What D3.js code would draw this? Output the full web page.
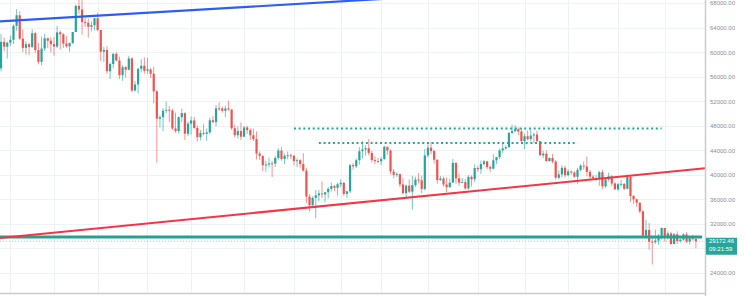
<!DOCTYPE html>
<html><head><meta charset="utf-8">
<script src="https://cdn.jsdelivr.net/npm/d3@7"></script>
<style>body{margin:0;background:#fff;} svg{display:block;}</style>
</head><body><svg id="c" width="745" height="296"></svg>
<script>
// ---- DATA (daily candles, 2021-10-15 .. 2022-05-26) ----
const startDate = "2021-10-15";
const opens = [
57347,61672,60875,61528,62010,64280,66001,62193,60688,61286,60852,63078,60328,58413,60575,62253,61859,
61300,60911,63219,62896,61395,60937,61470,63273,67525,66947,64882,64774,64122,64380,65519,63606,60058,60345,56891,58052,59707,58622,56247,57541,57138,58960,53726,54721,57274,57776,
56950,57184,56480,53601,49152,49396,50441,50589,50471,47545,47140,49389,50053,46702,48343,48864,47632,46131,46834,46681,46914,48889,48588,50839,50821,50429,50809,50640,47588,46464,47120,
46216,47722,47286,46446,45832,43451,43082,41566,41679,41864,41822,42736,43946,42592,43099,43177,43113,42250,42375,41744,40680,36445,35071,36244,36660,36958,36810,37160,37716,38166,37881,
38466,38691,36896,37311,41574,41382,42380,43840,44118,44339,43565,42407,42244,42197,42586,44575,43961,40538,40000,40117,38431,37017,38237,37250,38328,39219,39116,37700,
43160,44421,43892,42454,39148,39397,38420,37988,38730,41941,39422,38730,38807,37777,39671,39280,41114,40917,41757,42201,41262,41002,42364,42882,43991,44313,44511,46827,47122,47434,47067,
45510,46283,45811,46407,46580,45497,43170,43444,42252,42753,42158,39530,40074,41147,39942,40551,40378,39678,40801,41493,41358,40480,39709,39441,39450,40426,38112,39235,39742,38596,
37630,38468,38525,37729,39690,36552,36014,35468,34038,30077,31017,29104,29030,29287,30086,31329,29874,30445,28715,30319,29201,29445,30293,29109,29655,29543];
const highs = [
62933,62378,61718,62695,64486,67000,66639,63732,61747,61500,63710,63293,61496,62499,62980,62359,62405,
62437,64270,63500,63086,62595,61560,63286,67789,68524,69000,65600,65460,65000,65550,66401,63617,60840,60976,58320,59846,60029,59266,57875,57735,59398,59150,55280,57445,58865,59176,
59053,57375,57600,53859,49699,50891,51936,51200,50797,50125,49485,50777,50189,48700,49500,49436,47995,47313,48300,47537,49328,49576,51375,51810,51156,51280,52088,50704,48139,47900,48548,
47954,47990,47570,47505,47070,43816,43145,42300,42786,42248,43100,44322,44500,43446,43800,43476,43179,42700,42545,43505,41100,36835,36499,37550,37545,38919,37234,38000,38720,38359,38744,
39265,38855,37387,41772,41913,42656,44500,45492,44799,45821,43920,43000,42760,42876,44751,44583,44164,40959,40444,40150,39494,38420,39249,39843,39683,40300,39855,44225,
44949,45400,44101,42527,39794,39693,39547,39362,42594,42039,40236,39486,39310,39947,39887,41718,41478,42325,42400,42296,41544,43361,42893,44220,45094,44792,46999,48190,48097,47700,47600,
46720,47213,47444,46890,47200,45507,43900,43970,42800,43410,42414,40699,41561,41500,40870,40709,40595,41116,41760,42199,42976,40795,39980,39940,40616,40797,39474,40372,39925,38795,
38675,39167,38651,40023,39845,36675,36129,35502,34243,32658,32162,30033,31083,30343,31460,31329,30788,30709,30545,30777,29588,30487,30670,29844,30223,29850];
const lows = [
56850,60150,58963,60983,61322,63482,62000,60000,59562,59510,60650,59817,58000,57820,60174,60673,59945,
59405,60624,60382,60677,60721,60050,61322,63273,66222,62822,64100,62333,63360,63576,63400,58574,58373,56474,55600,57353,58486,55610,55317,55837,57000,53500,53610,53256,56666,56476,
56459,55777,51680,42000,47727,47100,50039,48600,47320,46852,46751,48638,45672,46290,46547,47511,45456,45598,46406,45558,46630,48421,47920,50384,50142,49412,50449,47313,46096,45900,45678,
46208,46654,45696,45502,42500,42430,40610,40501,41200,39650,41268,42450,42311,41725,42555,42581,41540,41250,41138,40553,35440,34008,34601,32917,35701,36234,35507,36155,37268,37351,36632,
38000,36586,36250,37026,40843,41116,41645,42667,43117,43187,42000,41748,41870,41570,42428,43310,40073,39451,39639,38000,36800,36350,37036,34322,38014,38600,37000,37450,
42809,43334,41832,38550,38988,38088,37155,37867,38656,38539,38223,38660,37578,37555,38098,38828,40500,40135,41499,40911,40467,40875,41750,42560,43579,44071,44422,46664,46930,46445,45200,
44200,45620,45530,45118,45353,43121,42727,42107,42125,41868,39200,39254,39588,39551,39766,39991,39546,38536,40571,40820,39751,39177,39285,38929,38200,37702,37881,38881,38175,37578,
37386,38052,37517,37670,35571,35258,34785,33713,30033,29731,27785,25400,28751,28630,29480,29088,29450,28654,28693,28730,28947,29255,28866,28669,29294,28019];
const closes = [
61672,60875,61528,62010,64280,66001,62193,60688,61286,60852,63078,60328,58413,60575,62253,61859,61300,
60911,63219,62896,61395,60937,61470,63273,67525,66947,64882,64774,64122,64380,65519,63606,60058,60345,56891,58052,59707,58622,56247,57541,57138,58960,53726,54721,57274,57776,56950,
57184,56480,53601,49152,49396,50441,50589,50471,47545,47140,49389,50053,46702,48343,48864,47632,46131,46834,46681,46914,48889,48588,50839,50821,50429,50809,50640,47588,46464,47120,46216,
47722,47286,46446,45832,43451,43082,41566,41679,41864,41822,42736,43946,42592,43099,43177,43113,42250,42375,41744,40680,36445,35071,36244,36660,36958,36810,37160,37716,38166,37881,38466,
38691,36896,37311,41574,41382,42380,43840,44118,44339,43565,42407,42244,42197,42586,44575,43961,40538,40000,40117,38431,37017,38237,37250,38328,39219,39116,37700,43160,
44421,43892,42454,39148,39397,38420,37988,38730,41941,39422,38730,38807,37777,39671,39280,41114,40917,41757,42201,41262,41002,42364,42882,43991,44313,44511,46827,47122,47434,47067,45510,
46283,45811,46407,46580,45497,43170,43444,42252,42753,42158,39530,40074,41147,39942,40551,40378,39678,40801,41493,41358,40480,39709,39441,39450,40426,38112,39235,39742,38596,37630,
38468,38525,37729,39690,36552,36014,35468,34038,30077,31017,29104,29030,29287,30086,31329,29874,30445,28715,30319,29201,29445,30293,29109,29655,29543,29172.46];

const gridPrices = [24000,28000,32000,36000,40000,44000,48000,52000,56000,60000,64000,68000];
const priceLabels = [24000,32000,36000,40000,44000,48000,52000,56000,60000,64000,68000];
const gridDates = ["2021-10-18","2021-11-01","2021-11-15","2021-12-01","2021-12-15","2022-01-01","2022-01-17","2022-02-01","2022-02-14","2022-03-01","2022-03-17","2022-04-01","2022-04-15","2022-05-01","2022-05-16"];

const blueTrend = [["2021-10-14",64969],["2022-03-01",69100]];
const redTrend  = [["2021-10-14",29668],["2022-05-31",41175]];
const supportLine = [["2021-10-14",29865],["2022-05-28",29865]];
const upperDotted = [["2022-01-17",47547],["2022-05-15",47547]];
const lowerDotted = [["2022-01-25",45184],["2022-04-18",45184]];
const lastPrice = 29172.46;
const countdown = "09:21:59";

// ---- CHART ----
const W = 745, H = 296, plotR = 705, plotB = 293;
const svg = d3.select("#c");
svg.append("rect").attr("width",W).attr("height",H).attr("fill","#fff");

const parse = s => new Date(s + "T00:00:00Z");
const x = d3.scaleUtc().domain([parse("2021-11-01"), parse("2022-05-01")]).range([54, 618]);
const y = d3.scaleLinear().domain([24000, 68000]).range([273, 3]);

const start = parse(startDate);
const candles = closes.map((c,i)=>({
  date: d3.utcDay.offset(start, i), o: opens[i], h: highs[i], l: lows[i], c
}));

svg.append("defs").append("clipPath").attr("id","clip")
  .append("rect").attr("x",0).attr("y",-2).attr("width",plotR).attr("height",plotB+2);

const g = svg.append("g").attr("clip-path","url(#clip)");

// grid
g.selectAll(".hg").data(gridPrices).join("line")
  .attr("x1",0).attr("x2",plotR).attr("y1",d=>Math.round(y(d))+0.5).attr("y2",d=>Math.round(y(d))+0.5)
  .attr("stroke","#eef1f6").attr("stroke-width",1);
g.selectAll(".vg").data(gridDates).join("line")
  .attr("x1",d=>Math.round(x(parse(d)))+0.5).attr("x2",d=>Math.round(x(parse(d)))+0.5)
  .attr("y1",0).attr("y2",plotB)
  .attr("stroke","#eef1f6").attr("stroke-width",1);

const up = "#26a69a", down = "#ef5350";
const bw = 2.2;
const cg = g.append("g");
cg.selectAll(".wick").data(candles).join("line")
  .attr("x1",d=>x(d.date)).attr("x2",d=>x(d.date))
  .attr("y1",d=>y(d.h)).attr("y2",d=>y(d.l))
  .attr("stroke",d=>d.c>=d.o?up:down).attr("stroke-opacity",0.7).attr("stroke-width",0.9);
cg.selectAll(".body").data(candles).join("rect")
  .attr("x",d=>x(d.date)-bw/2).attr("width",bw)
  .attr("y",d=>y(Math.max(d.o,d.c)))
  .attr("height",d=>Math.max(0.9, Math.abs(y(d.o)-y(d.c))))
  .attr("fill",d=>d.c>=d.o?up:down);

const line = d3.line().x(d=>x(parse(d[0]))).y(d=>y(d[1]));

g.append("path").datum(supportLine).attr("d",line).attr("stroke","#26a08f").attr("stroke-width",3).attr("fill","none");
g.append("path").datum(redTrend).attr("d",line).attr("stroke","#f23645").attr("stroke-width",2).attr("fill","none");
g.append("path").datum(blueTrend).attr("d",line).attr("stroke","#2c5ef2").attr("stroke-width",2.2).attr("fill","none");
g.append("path").datum(upperDotted).attr("d",line).attr("stroke","#26a69a").attr("stroke-width",2).attr("stroke-dasharray","2,2.7").attr("fill","none");
g.append("path").datum(lowerDotted).attr("d",line).attr("stroke","#26a69a").attr("stroke-width",2).attr("stroke-dasharray","2,2.7").attr("fill","none");

// last price dotted line
g.append("line").attr("x1",0).attr("x2",plotR).attr("y1",y(lastPrice)).attr("y2",y(lastPrice))
  .attr("stroke","#26a69a").attr("stroke-opacity",0.45).attr("stroke-width",1).attr("stroke-dasharray","1,2");

// borders
svg.append("line").attr("x1",0).attr("x2",plotR).attr("y1",plotB+0.5).attr("y2",plotB+0.5).attr("stroke","#c9cbd0").attr("stroke-width",1.5);
svg.append("line").attr("x1",plotR+0.5).attr("x2",plotR+0.5).attr("y1",0).attr("y2",H).attr("stroke","#c9cbd0").attr("stroke-width",1.5);

// right axis (the 28000 label is hidden behind the last-price tag, as in the reference)
const axis = d3.axisRight(y).tickValues(priceLabels).tickFormat(d=>d.toFixed(2)).tickSize(0).tickPadding(0);
const ag = svg.append("g").attr("transform",`translate(710,0)`).call(axis);
ag.select(".domain").remove();
ag.selectAll("text").attr("font-family","'Liberation Sans', Arial, sans-serif").attr("font-size",6).attr("fill","#8a8d96");

// last price label
const py = y(lastPrice);
svg.append("rect").attr("x",706).attr("y",py-3.5).attr("width",31).attr("height",17).attr("fill","#26a69a");
svg.append("text").attr("x",709).attr("y",py+2).text(lastPrice.toFixed(2))
  .attr("font-family","'Liberation Sans', Arial, sans-serif").attr("font-size",6).attr("fill","#fff");
svg.append("text").attr("x",709).attr("y",py+9.5).text(countdown)
  .attr("font-family","'Liberation Sans', Arial, sans-serif").attr("font-size",6).attr("fill","#fff");
</script></body></html>
